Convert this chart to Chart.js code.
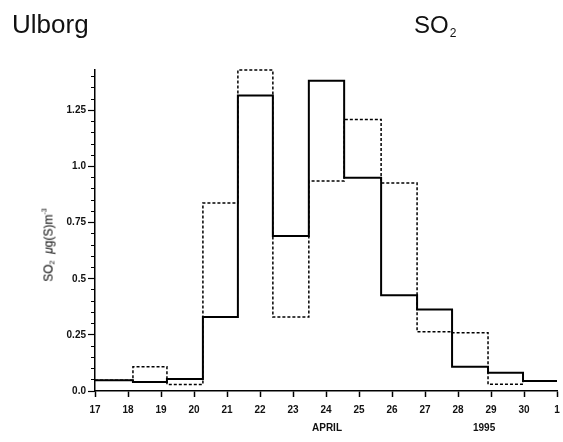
<!DOCTYPE html>
<html>
<head>
<meta charset="utf-8">
<script src="https://cdn.jsdelivr.net/npm/chart.js@4"></script>
<style>
  html, body { margin: 0; padding: 0; background: #fff; }
  #wrap { position: relative; width: 563px; height: 442px; }
  canvas { position: absolute; left: 0; top: 0; }
  .t { position: absolute; font-family: "Liberation Sans", Arial, sans-serif; color: #111; white-space: nowrap; line-height: 1; }
  .ytitle { position: absolute; left: 48px; top: 245px; transform: translate(-50%, -50%) rotate(-90deg); font-size: 12px; color: #000; }
  .ytitle sub { font-size: 7px; vertical-align: -2px; }
  .ytitle sup { font-size: 7px; vertical-align: 6px; }
</style>
</head>
<body>
<div id="wrap">
  <canvas id="c" width="563" height="442"></canvas>
  <div class="t" style="left:12px; top:11px; font-size:26px;">Ulborg</div>
  <div class="t" style="left:414px; top:13px; font-size:24px;">SO<span style="font-size:12px; position:relative; top:4px; margin-left:1px;">2</span></div>
  <div class="t" style="left:312px; top:423px; font-size:10px; font-weight:bold;">APRIL</div>
  <div class="t" style="left:473px; top:423px; font-size:10px; font-weight:bold;">1995</div>
  <div class="t ytitle">SO<sub>2</sub>&nbsp;&nbsp;<i>μ</i>g(S)m<sup>-3</sup></div>
</div>
<script>
// Tick labels for the x axis (days, April 17 .. May 1)
const dayLabels = ['17','18','19','20','21','22','23','24','25','26','27','28','29','30','1'];
// Sampling period edges (in day units; 31 = May 1)
const edges = [17, 18.15, 19.18, 20.27, 21.33, 22.39, 23.48, 24.55, 25.67, 26.76, 27.82, 28.91, 29.97, 31];
// Solid series values (µg(S)/m³) per sampling period
const solidValues = [0.048, 0.04, 0.053, 0.33, 1.316, 0.69, 1.382, 0.95, 0.427, 0.363, 0.108, 0.081, 0.044];
// Dashed series values per sampling period
const dashedValues = [0.048, 0.108, 0.029, 0.837, 1.43, 0.33, 0.935, 1.21, 0.927, 0.264, 0.26, 0.03, 0.044];
// Labeled y ticks
const yLabelValues = [0, 0.25, 0.5, 0.75, 1.0, 1.25];
const yLabelTexts = ['0.0', '0.25', '0.5', '0.75', '1.0', '1.25'];
// Minor y tick step
const yMinorStep = 0.05;

function stepPoints(vals) {
  const pts = vals.map((v, i) => ({ x: edges[i], y: v }));
  pts.push({ x: edges[edges.length - 1], y: vals[vals.length - 1] });
  return pts;
}

const tickFont = { family: '"Liberation Sans", Arial, sans-serif', size: 10, weight: 'bold' };

new Chart(document.getElementById('c'), {
  type: 'line',
  data: {
    datasets: [
      {
        data: stepPoints(solidValues),
        stepped: true,
        borderColor: '#000',
        borderWidth: 2,
        pointRadius: 0,
        fill: false,
        clip: false
      },
      {
        data: stepPoints(dashedValues),
        stepped: true,
        borderColor: '#000',
        borderWidth: 1.5,
        borderDash: [3, 2],
        pointRadius: 0,
        fill: false,
        clip: false
      }
    ]
  },
  options: {
    responsive: false,
    animation: false,
    devicePixelRatio: 1,
    layout: { padding: { left: 0, right: 6, top: 70, bottom: 0 } },
    plugins: { legend: { display: false }, tooltip: { enabled: false } },
    scales: {
      x: {
        type: 'linear',
        min: 17,
        max: 31,
        afterFit: (s) => { s.height = 51; s.paddingLeft = 0; s.paddingRight = 0; },
        afterBuildTicks: (s) => {
          s.ticks = dayLabels.map((_, i) => ({ value: 17 + i }));
        },
        ticks: {
          autoSkip: false,
          maxRotation: 0,
          padding: 7,
          color: '#111',
          font: tickFont,
          callback: (v) => dayLabels[Math.round(v) - 17]
        },
        grid: {
          drawOnChartArea: false,
          drawTicks: true,
          tickLength: 6,
          tickColor: '#000',
          tickWidth: 1.5
        },
        border: { display: true, color: '#000', width: 1.5 }
      },
      y: {
        type: 'linear',
        position: 'left',
        weight: 1,
        min: 0,
        max: 1.43,
        afterFit: (s) => { s.width = 95; },
        afterBuildTicks: (s) => {
          s.ticks = yLabelValues.map(v => ({ value: v }));
        },
        ticks: {
          autoSkip: false,
          padding: 2,
          color: '#111',
          font: tickFont,
          callback: (v) => {
            const idx = yLabelValues.findIndex(a => Math.abs(a - v) < 1e-6);
            return idx >= 0 ? yLabelTexts[idx] : '';
          }
        },
        grid: {
          drawOnChartArea: false,
          drawTicks: true,
          tickLength: 7,
          tickColor: '#000',
          tickWidth: 1.2
        },
        border: { display: true, color: '#000', width: 1.5 }
      },
      yMinor: {
        type: 'linear',
        position: 'left',
        weight: 0,
        min: 0,
        max: 1.43,
        afterFit: (s) => { s.width = 0; },
        afterBuildTicks: (s) => {
          const t = [];
          for (let v = 0; v <= 1.43 + 1e-9; v += yMinorStep) t.push({ value: Math.round(v * 100) / 100 });
          s.ticks = t;
        },
        ticks: { display: false },
        grid: {
          drawOnChartArea: false,
          drawTicks: true,
          tickLength: 4,
          tickColor: '#000',
          tickWidth: 1
        },
        border: { display: false }
      }
    }
  }
});
</script>
</body>
</html>
